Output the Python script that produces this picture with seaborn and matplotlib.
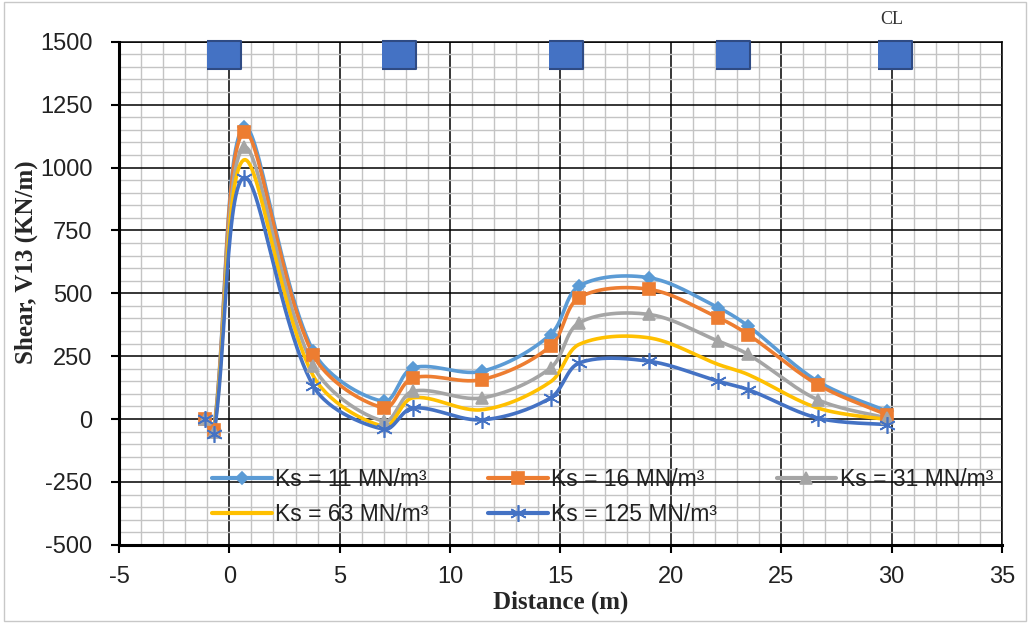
import numpy as np
import pandas as pd
import seaborn as sns
import matplotlib
matplotlib.use("Agg")
import matplotlib.pyplot as plt
from matplotlib.lines import Line2D
from matplotlib.patches import Rectangle
from matplotlib.ticker import MultipleLocator

# distance of the result points along the strip (m)
distance = [-1.1, -0.7, 0.65, 3.8, 7.0, 8.3, 11.45, 14.55, 15.85, 19.0, 22.15, 23.5, 26.65, 29.8]

# shear V13 (kN/m) for each subgrade modulus
shear_ks11 = [0, -40, 1160, 270, 70, 203, 190, 336, 529, 562, 443, 370, 150, 31]
shear_ks16 = [0, -45, 1140, 255, 44, 163, 157, 290, 483, 516, 403, 336, 137, 17]
shear_ks31 = [0, -50, 1080, 210, -9, 110, 84, 203, 383, 416, 310, 257, 77, 4]
shear_ks63 = [0, -55, 1030, 172, -29, 84, 37, 148, 297, 323, 217, 177, 44, -2]
shear_ks125 = [0, -60, 960, 132, -41, 44, -3, 84, 223, 230, 150, 117, 4, -22]

series_labels = ["Ks = 11 MN/m³", "Ks = 16 MN/m³", "Ks = 31 MN/m³",
                 "Ks = 63 MN/m³", "Ks = 125 MN/m³"]

# supports (columns) drawn on top of the chart
support_x = [-0.25, 7.7, 15.25, 22.8, 30.15]
support_y = [1448, 1448, 1448, 1448, 1448]
cl_x = 30.0
cl_y = 1590

colors = ["#5B9BD5", "#ED7D31", "#A5A5A5", "#FFC000", "#4472C4"]
markers = ["D", "s", "^", None, (6, 2, 0)]
msizes = [6, 8, 8, 0, 12]


def excel_smooth(x, y, n=30):
    # bezier smoothing like the "smoothed line" option of a spreadsheet chart,
    # worked out in screen units so short segments do not overshoot
    sx, sy = 22.07, 0.2508
    pts = np.column_stack([np.asarray(x) * sx, np.asarray(y) * sy]).astype(float)
    out = [pts[0]]
    t = np.linspace(0, 1, n)[1:, None]
    for i in range(len(pts) - 1):
        p0 = pts[i - 1] if i > 0 else pts[i]
        p1 = pts[i]
        p2 = pts[i + 1]
        p3 = pts[i + 2] if i + 2 < len(pts) else pts[i + 1]
        d01 = np.linalg.norm(p1 - p0)
        d12 = np.linalg.norm(p2 - p1)
        d23 = np.linalg.norm(p3 - p2)
        c1 = p1 + (p2 - p0) * (d12 / (d01 + d12) / 3 if d01 > 0 else 1 / 6)
        c2 = p2 - (p3 - p1) * (d12 / (d12 + d23) / 3 if d23 > 0 else 1 / 6)
        seg = (1 - t) ** 3 * p1 + 3 * (1 - t) ** 2 * t * c1 + 3 * (1 - t) * t ** 2 * c2 + t ** 3 * p2
        out.extend(seg)
    out = np.array(out)
    return out[:, 0] / sx, out[:, 1] / sy


sns.set_theme(style="white")
plt.rcParams["font.family"] = ["Liberation Sans", "DejaVu Sans"]
plt.rcParams["axes.unicode_minus"] = False

fig = plt.figure(figsize=(10.3, 6.23), dpi=100)
ax = fig.add_axes([0.1155, 0.1255, 0.8573, 0.8075])

all_series = [shear_ks11, shear_ks16, shear_ks31, shear_ks63, shear_ks125]
for vals, lab, col, mk, ms in zip(all_series, series_labels, colors, markers, msizes):
    sx, sy = excel_smooth(distance, vals)
    curve = pd.DataFrame({"Distance": sx, "Shear": sy})
    sns.lineplot(data=curve, x="Distance", y="Shear", sort=False, estimator=None,
                 color=col, lw=2.6, ax=ax, zorder=3)
    if mk is not None:
        ax.plot(distance, vals, linestyle="none", marker=mk, ms=ms, color=col,
                mec=col, mew=1.2, zorder=4)

# support blocks
rect = [(-1, -0.78), (1, -0.78), (1, 0.78), (-1, 0.78)]
ax.scatter(support_x, support_y, marker=rect, s=25 ** 2, color="#4472C4",
           edgecolor="#2F4B84", linewidth=1.5, zorder=6, clip_on=False)
ax.text(cl_x, cl_y, "CL", ha="center", va="center", fontsize=13,
        family=["Liberation Serif", "DejaVu Serif"], color="#333333")

ax.set_xlim(-5, 35)
ax.set_ylim(-500, 1500)
ax.xaxis.set_major_locator(MultipleLocator(5))
ax.xaxis.set_minor_locator(MultipleLocator(1))
ax.yaxis.set_major_locator(MultipleLocator(250))
ax.yaxis.set_minor_locator(MultipleLocator(50))
ax.grid(which="major", color="black", lw=1.1, zorder=1)
ax.grid(which="minor", color="#c4c4c4", lw=1.0, zorder=0)
ax.set_axisbelow(True)

for side in ["left", "bottom"]:
    ax.spines[side].set_linewidth(2.2)
    ax.spines[side].set_color("black")
for side in ["top", "right"]:
    ax.spines[side].set_linewidth(1.1)
    ax.spines[side].set_color("black")

ax.tick_params(which="major", direction="out", length=6, width=1.5, color="black",
               labelsize=17, labelcolor="#222222", left=True, bottom=True)
ax.tick_params(axis="y", pad=13)
ax.tick_params(axis="x", pad=9)
ax.tick_params(which="minor", length=0)

ax.set_xlabel("Distance (m)", fontsize=18, fontweight="bold",
              family=["Liberation Serif", "DejaVu Serif"])
ax.set_ylabel("Shear, V13 (KN/m)", fontsize=18, fontweight="bold",
              family=["Liberation Serif", "DejaVu Serif"])
ax.xaxis.set_label_coords(0.5, -0.09)
ax.yaxis.set_label_coords(-0.092, 0.562)

handles = []
for lab, col, mk, ms in zip(series_labels, colors, markers, msizes):
    handles.append(Line2D([], [], color=col, lw=3, marker=mk if mk else "",
                          ms=ms, mec=col, mew=1.2, label=lab))
# legend fills column by column, so reorder to read row by row
order = [0, 3, 1, 4, 2]
leg = ax.legend(handles=[handles[i] for i in order], ncol=3, loc="lower left",
                bbox_to_anchor=(0.095, 0.02), frameon=False, fontsize=16.5,
                handlelength=2.6, handletextpad=0.15, columnspacing=2.6,
                labelspacing=0.5, borderaxespad=0)
for txt in leg.get_texts():
    txt.set_color("#222222")

fig.patches.append(Rectangle((0.004, 0.004), 0.992, 0.992, transform=fig.transFigure,
                             fill=False, ec="#c8c8c8", lw=1))

fig.savefig("out.png", dpi=100, facecolor="white")
